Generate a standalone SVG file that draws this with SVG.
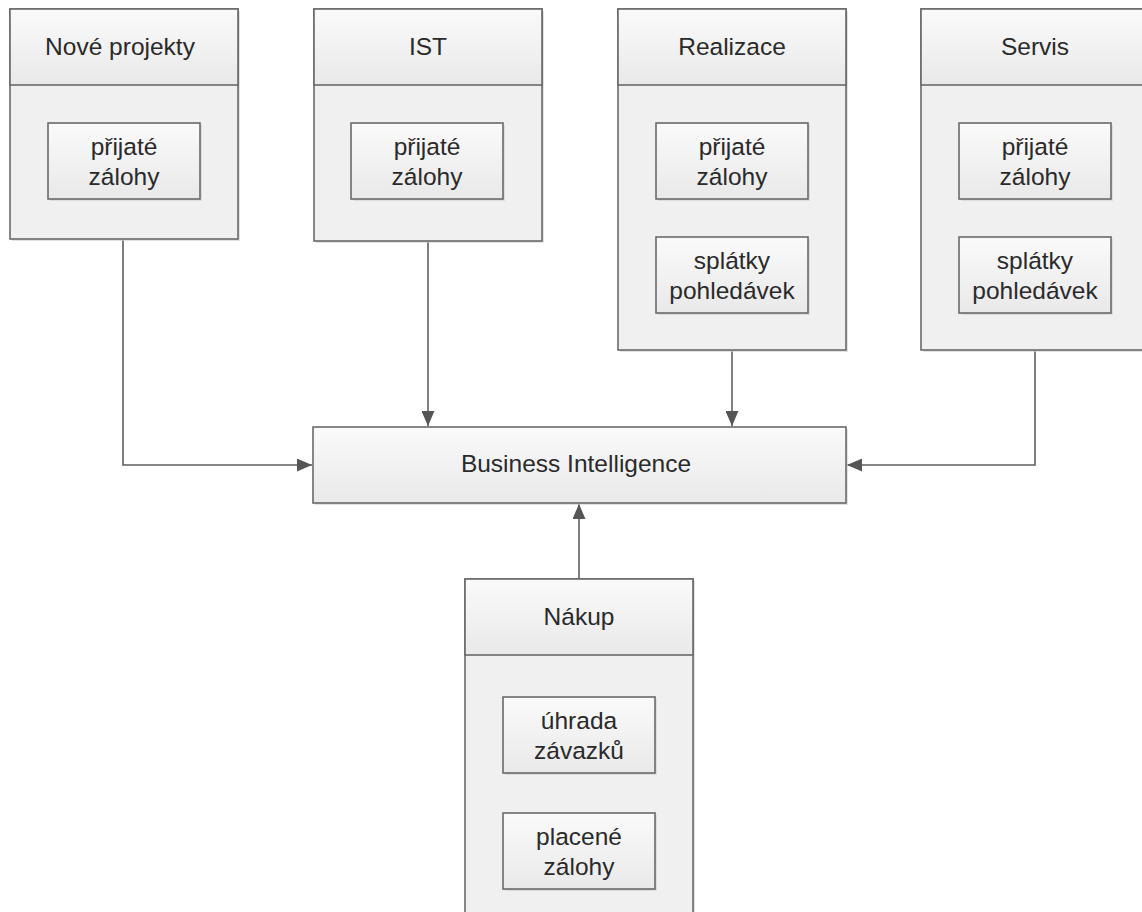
<svg xmlns="http://www.w3.org/2000/svg" width="1142" height="912" viewBox="0 0 1142 912">
<style>
.box{stroke:#6a6a6a;stroke-width:1.6}
.body{fill:#f0f0f0}
.hdr{fill:url(#g)}
.in{fill:url(#g)}
.sh{fill:#cfcfcf;opacity:.6}
.t{font-family:"Liberation Sans",Arial,sans-serif;font-size:24.5px;fill:#2a2a2a;text-anchor:middle}
.c{fill:none;stroke:#5e5e5e;stroke-width:1.6}
</style>
<defs>
<linearGradient id="g" x1="0" y1="0" x2="0" y2="1">
<stop offset="0" stop-color="#fafafa"/>
<stop offset="1" stop-color="#e9e9e9"/>
</linearGradient>
<marker id="a" viewBox="0 0 15 13" refX="15" refY="6.5" markerWidth="15" markerHeight="13" markerUnits="userSpaceOnUse" orient="auto">
<path d="M0,0 L15,6.5 L0,13 z" fill="#555"/>
</marker>
</defs>

<g id="connectors">
<path class="c" d="M123,240 V465 H312" marker-end="url(#a)"/>
<path class="c" d="M428,242 V426" marker-end="url(#a)"/>
<path class="c" d="M732,351 V426" marker-end="url(#a)"/>
<path class="c" d="M1035,351 V465 H847" marker-end="url(#a)"/>
<path class="c" d="M579,579 V504" marker-end="url(#a)"/>
</g>

<g id="nove-projekty">
<rect class="sh" x="12" y="11" width="228" height="230"/>
<rect class="box body" x="10" y="9" width="228" height="230"/>
<rect class="box hdr" x="10" y="9" width="228" height="76"/>
<text class="t" x="120" y="55">Nové projekty</text>
<rect class="sh" x="50" y="125" width="152" height="76"/>
<rect class="box in" x="48" y="123" width="152" height="76"/>
<text class="t" x="124" y="155">přijaté</text>
<text class="t" x="124" y="185">zálohy</text>
</g>

<g id="ist">
<rect class="sh" x="316" y="11" width="228" height="232"/>
<rect class="box body" x="314" y="9" width="228" height="232"/>
<rect class="box hdr" x="314" y="9" width="228" height="76"/>
<text class="t" x="428" y="55">IST</text>
<rect class="sh" x="353" y="125" width="152" height="76"/>
<rect class="box in" x="351" y="123" width="152" height="76"/>
<text class="t" x="427" y="155">přijaté</text>
<text class="t" x="427" y="185">zálohy</text>
</g>

<g id="realizace">
<rect class="sh" x="620" y="11" width="228" height="341"/>
<rect class="box body" x="618" y="9" width="228" height="341"/>
<rect class="box hdr" x="618" y="9" width="228" height="76"/>
<text class="t" x="732" y="55">Realizace</text>
<rect class="sh" x="658" y="125" width="152" height="76"/>
<rect class="box in" x="656" y="123" width="152" height="76"/>
<text class="t" x="732" y="155">přijaté</text>
<text class="t" x="732" y="185">zálohy</text>
<rect class="sh" x="658" y="239" width="152" height="76"/>
<rect class="box in" x="656" y="237" width="152" height="76"/>
<text class="t" x="732" y="269">splátky</text>
<text class="t" x="732" y="299">pohledávek</text>
</g>

<g id="servis">
<rect class="sh" x="923" y="11" width="228" height="341"/>
<rect class="box body" x="921" y="9" width="228" height="341"/>
<rect class="box hdr" x="921" y="9" width="228" height="76"/>
<text class="t" x="1035" y="55">Servis</text>
<rect class="sh" x="961" y="125" width="152" height="76"/>
<rect class="box in" x="959" y="123" width="152" height="76"/>
<text class="t" x="1035" y="155">přijaté</text>
<text class="t" x="1035" y="185">zálohy</text>
<rect class="sh" x="961" y="239" width="152" height="76"/>
<rect class="box in" x="959" y="237" width="152" height="76"/>
<text class="t" x="1035" y="269">splátky</text>
<text class="t" x="1035" y="299">pohledávek</text>
</g>

<g id="business-intelligence">
<rect class="sh" x="315" y="429" width="533" height="76"/>
<rect class="box in" x="313" y="427" width="533" height="76"/>
<text class="t" x="576" y="472">Business Intelligence</text>
</g>

<g id="nakup">
<rect class="sh" x="467" y="581" width="228" height="340"/>
<rect class="box body" x="465" y="579" width="228" height="340"/>
<rect class="box hdr" x="465" y="579" width="228" height="76"/>
<text class="t" x="579" y="625">Nákup</text>
<rect class="sh" x="505" y="699" width="152" height="76"/>
<rect class="box in" x="503" y="697" width="152" height="76"/>
<text class="t" x="579" y="729">úhrada</text>
<text class="t" x="579" y="759">závazků</text>
<rect class="sh" x="505" y="815" width="152" height="76"/>
<rect class="box in" x="503" y="813" width="152" height="76"/>
<text class="t" x="579" y="845">placené</text>
<text class="t" x="579" y="875">zálohy</text>
</g>
</svg>
